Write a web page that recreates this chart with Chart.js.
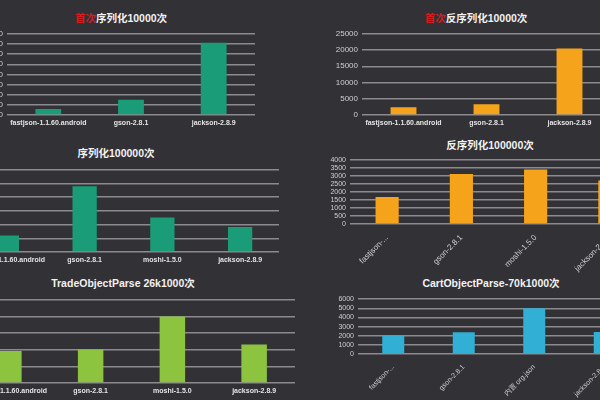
<!DOCTYPE html>
<html>
<head>
<meta charset="utf-8">
<script src="https://cdn.jsdelivr.net/npm/chart.js@4.4.0/dist/chart.umd.min.js"></script>
<style>
  body { margin: 0; background: #323136; }
  #board {
    position: relative; width: 600px; height: 400px; overflow: hidden;
    background: #323136;
    font-family: "Liberation Sans", "Noto Sans CJK SC", sans-serif;
  }
  #board canvas { position: absolute; }
  .title {
    position: absolute; transform: translate(-50%, -50%);
    color: #f2f2f2; font-weight: bold; font-size: 10.5px; white-space: nowrap;
  }
  .title .red { color: #d41e1e; }
</style>
</head>
<body>
<div id="board">
  <canvas id="c1" width="303" height="110" style="left:-43px;top:25px"></canvas>
  <canvas id="c2" width="304" height="110" style="left:312px;top:25px"></canvas>
  <canvas id="c3" width="366" height="111" style="left:-82px;top:161px"></canvas>
  <canvas id="c4" width="342" height="122" style="left:310px;top:152px"></canvas>
  <canvas id="c5" width="382" height="112" style="left:-82px;top:291px"></canvas>
  <canvas id="c6" width="332" height="113" style="left:313px;top:291px"></canvas>

  <div class="title" style="left:121px;top:17px"><span class="red">首次</span>序列化10000次</div>
  <div class="title" style="left:476px;top:17px"><span class="red">首次</span>反序列化10000次</div>
  <div class="title" style="left:116px;top:152px">序列化100000次</div>
  <div class="title" style="left:490px;top:144px">反序列化100000次</div>
  <div class="title" style="left:123px;top:282px">TradeObjectParse 26k1000次</div>
  <div class="title" style="left:491px;top:282px">CartObjectParse-70k1000次</div>
</div>
<script>
  // categories
  const libs3 = ["fastjson-1.1.60.android", "gson-2.8.1", "jackson-2.8.9"];
  const libs4 = ["fastjson-1.1.60.android", "gson-2.8.1", "moshi-1.5.0", "jackson-2.8.9"];
  const libsCart = ["fastjson-1.1.60.android", "gson-2.8.1", "内置 org.json", "jackson-2.8.9"];

  // values (ms)
  const firstSerialize = [300, 750, 3560];
  const firstDeserialize = [2400, 3300, 20500];
  const serialize100k = [120, 480, 251, 183];
  const deserialize100k = [1690, 3140, 3410, 2720];
  const tradeParse = [386, 402, 798, 462];
  const cartParse = [1990, 2390, 5020, 2420];

  // y axis ranges
  const yMax = [4000, 25000, 600, 4000, 1000, 6000];
  const yStep = [500, 5000, 100, 500, 200, 1000];

  const GRID = "#8b8a8f";

  function shortLabel(label) {
    return label.length > 15 ? label.slice(0, 9) + "..." : label;
  }

  function makeChart(id, labels, values, color, idx, opts) {
    const rotated = opts.rotated;
    return new Chart(document.getElementById(id), {
      type: "bar",
      data: {
        labels: labels,
        datasets: [{
          data: values,
          backgroundColor: color,
          borderWidth: 0,
          categoryPercentage: 0.8,
          barPercentage: 0.39,
        }],
      },
      options: {
        responsive: false,
        animation: false,
        layout: { padding: { top: 8, right: 5, left: 0, bottom: 0 } },
        plugins: { legend: { display: false }, tooltip: { enabled: false } },
        scales: {
          x: {
            grid: { display: false, drawTicks: false },
            border: { display: false },
            ticks: {
              color: rotated ? "#cfcfcf" : "#e4e4e4",
              font: { size: opts.xFont || 7, weight: rotated ? "normal" : "bold" },
              padding: rotated ? 9 : 4,
              autoSkip: false,
              minRotation: rotated ? 45 : 0,
              maxRotation: rotated ? 45 : 0,
              callback: function (value) {
                const l = this.getLabelForValue(value);
                return rotated ? shortLabel(l) : l;
              },
            },
            afterFit: (s) => { s.height = opts.xHeight; },
          },
          y: {
            min: 0,
            max: yMax[idx],
            grid: { color: GRID, lineWidth: 1.5, drawTicks: false },
            border: { display: false },
            ticks: {
              stepSize: yStep[idx],
              autoSkip: false,
              color: "#cfcfcf",
              font: { size: opts.yFont },
              padding: 4,
              callback: (v) => String(v),
            },
            afterFit: (s) => { s.width = opts.yWidth; },
          },
        },
      },
    });
  }

  makeChart("c1", libs3, firstSerialize, "#1b9c79", 0, { yWidth: 50, xHeight: 20, yFont: 8 });
  makeChart("c2", libs3, firstDeserialize, "#f4a31b", 1, { yWidth: 50, xHeight: 20, yFont: 8 });
  makeChart("c3", libs4, serialize100k, "#1b9c79", 2, { yWidth: 50, xHeight: 20, yFont: 8 });
  makeChart("c4", libs4, deserialize100k, "#f4a31b", 3, { yWidth: 40, xHeight: 50, yFont: 7, xFont: 8, rotated: true });
  makeChart("c5", libs4, tradeParse, "#8cc43f", 4, { yWidth: 50, xHeight: 20, yFont: 8 });
  makeChart("c6", libsCart, cartParse, "#31afd4", 5, { yWidth: 45, xHeight: 50, yFont: 7, xFont: 7, rotated: true });
</script>
</body>
</html>
